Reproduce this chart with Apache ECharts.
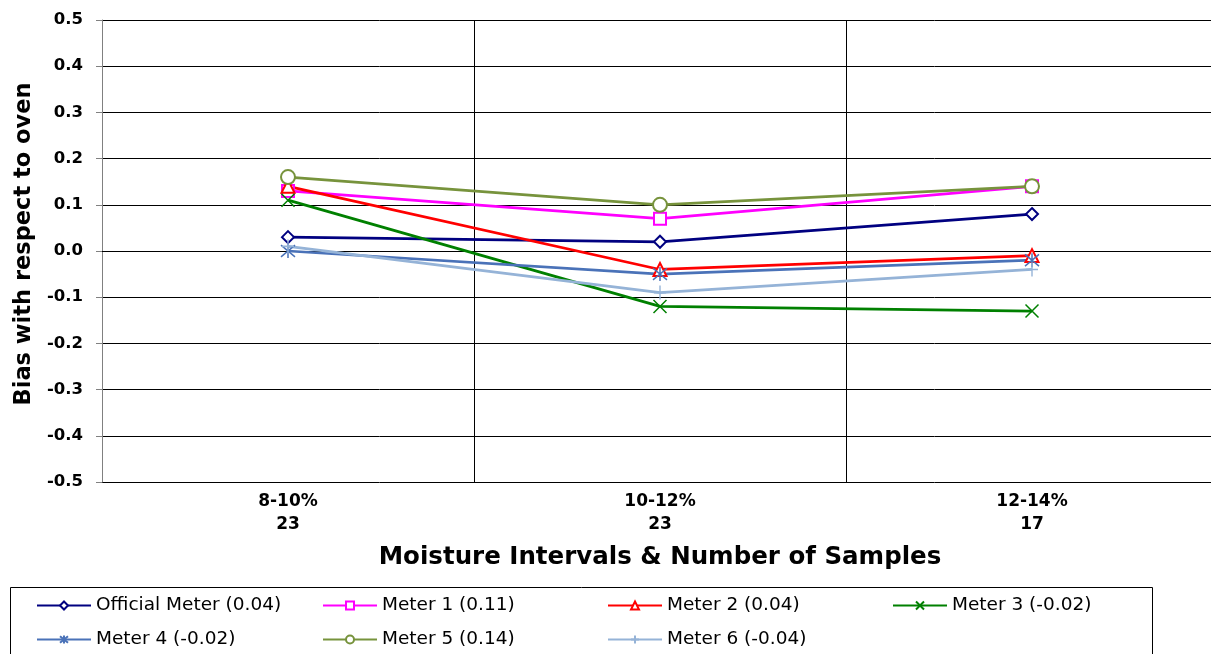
<!DOCTYPE html>
<html>
<head>
<meta charset="utf-8">
<script src="https://cdn.jsdelivr.net/npm/echarts@6/dist/echarts.min.js"></script>
<style>
html,body{margin:0;padding:0;background:#fff;}
#chart{width:1211px;height:654px;}
</style>
</head>
<body>
<div id="chart"></div>
<script>
var categories = ['8-10%\n23', '10-12%\n23', '12-14%\n17'];
var officialMeter = [0.03, 0.02, 0.08];
var meter1 = [0.13, 0.07, 0.14];
var meter2 = [0.14, -0.04, -0.01];
var meter3 = [0.11, -0.12, -0.13];
var meter4 = [0.00, -0.05, -0.02];
var meter5 = [0.16, 0.10, 0.14];
var meter6 = [0.01, -0.09, -0.04];
var seriesNames = ['Official Meter (0.04)', 'Meter 1 (0.11)', 'Meter 2 (0.04)', 'Meter 3 (-0.02)',
                   'Meter 4 (-0.02)', 'Meter 5 (0.14)', 'Meter 6 (-0.04)'];
var yTicks = [-0.5, -0.4, -0.3, -0.2, -0.1, 0.0, 0.1, 0.2, 0.3, 0.4, 0.5];

var FONT = '"DejaVu Sans", "Liberation Sans", Arial, sans-serif';
var colors = ['#000080', '#FF00FF', '#FF0000', '#008000', '#4A72B8', '#77933C', '#95B3D7'];
var symbols = ['emptyDiamond', 'emptyRect', 'emptyTriangle',
  'path://M0,0L10,10M10,0L0,10',
  'path://M0,0L10,10M10,0L0,10M5,-1L5,11',
  'emptyCircle',
  'path://M5,0L5,12M0,6L10,6'];
var sizes = [12, 12, 13, 13, 14, 14, [12, 14]];
var dataSets = [officialMeter, meter1, meter2, meter3, meter4, meter5, meter6];

var series = dataSets.map(function (d, i) {
  return {
    name: seriesNames[i],
    type: 'line',
    data: d,
    symbol: symbols[i],
    symbolSize: sizes[i],
    showAllSymbol: true,
    lineStyle: { color: colors[i], width: 2.75 },
    itemStyle: { color: colors[i], borderColor: colors[i], borderWidth: 1.5 },
    emphasis: { disabled: true },
    animation: false,
    z: 3
  };
});

var legendPos = [[36, 596], [322, 596], [607, 596], [892, 596], [36, 630], [322, 630], [607, 630]];
var legends = seriesNames.map(function (n, i) {
  return {
    data: [n],
    left: legendPos[i][0],
    top: legendPos[i][1],
    padding: 0,
    itemWidth: 54,
    itemHeight: 10,
    itemGap: 5,
    textStyle: { fontFamily: FONT, fontSize: 18.5, color: '#000' },
    selectedMode: false
  };
});

var chart = echarts.init(document.getElementById('chart'), null, { renderer: 'canvas' });
chart.setOption({
  backgroundColor: '#fff',
  animation: false,
  grid: { left: 102, top: 20, width: 1116, height: 462, containLabel: false, outerBoundsMode: 'none' },
  legend: legends,
  graphic: [{
    type: 'rect',
    shape: { x: 10.5, y: 587.5, width: 1142, height: 80 },
    style: { fill: 'none', stroke: '#000', lineWidth: 1 },
    silent: true
  }],
  xAxis: {
    type: 'category',
    data: categories,
    boundaryGap: true,
    name: 'Moisture Intervals & Number of Samples',
    nameLocation: 'middle',
    nameGap: 63,
    nameTextStyle: { fontFamily: FONT, fontSize: 24.5, fontWeight: 'bold', color: '#000' },
    axisLine: { show: true, lineStyle: { color: '#000', width: 1 } },
    axisTick: { show: false },
    axisLabel: { fontFamily: FONT, fontSize: 17, fontWeight: 'bold', color: '#000', lineHeight: 23, margin: 8 },
    splitLine: { show: true, lineStyle: { color: '#000', width: 1 } }
  },
  yAxis: {
    type: 'value',
    min: -0.5,
    max: 0.5,
    interval: 0.1,
    name: 'Bias with respect to oven',
    nameLocation: 'middle',
    nameGap: 66,
    nameTextStyle: { fontFamily: FONT, fontSize: 22.5, fontWeight: 'bold', color: '#000', padding: [0, 0, 0, 14] },
    axisLine: { show: true, lineStyle: { color: '#808080', width: 1 } },
    axisTick: { show: true, length: 6, lineStyle: { color: '#808080' } },
    axisLabel: {
      fontFamily: FONT, fontSize: 16.5, fontWeight: 'bold', color: '#000', margin: 19,
      formatter: function (v) {
        var best = yTicks.reduce(function (a, b) { return Math.abs(b - v) < Math.abs(a - v) ? b : a; });
        return best.toFixed(1);
      }
    },
    splitLine: { show: true, lineStyle: { color: '#000', width: 1 } }
  },
  series: series
});
</script>
</body>
</html>
